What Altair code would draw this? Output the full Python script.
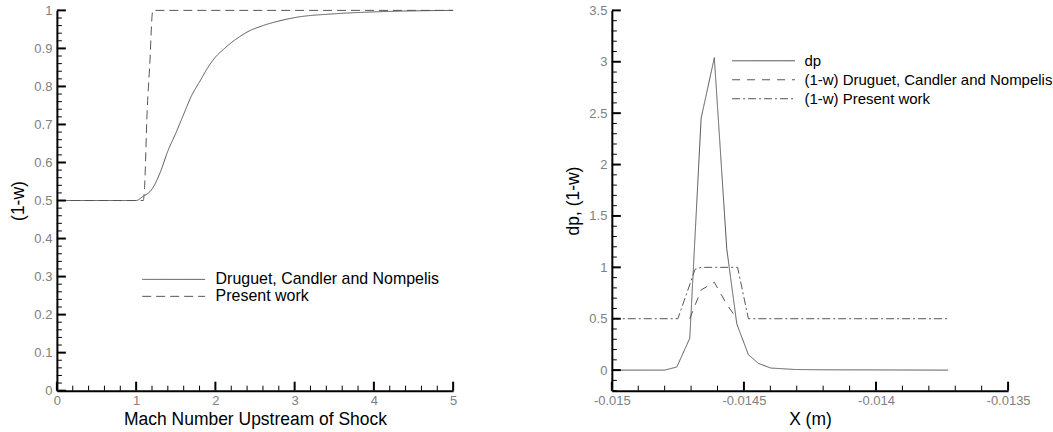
import altair as alt
import pandas as pd

# ---------------- Left panel data: (1-w) vs upstream Mach number ----------------
mach_druguet = [0.0, 1.0, 1.08, 1.2, 1.3, 1.4, 1.5, 1.6, 1.7, 1.8, 1.9, 2.0, 2.1, 2.2, 2.3, 2.4,
                2.6, 2.8, 3.0, 3.5, 4.0, 5.0]
w_druguet = [0.5, 0.5, 0.51, 0.53, 0.572, 0.63, 0.677, 0.727, 0.776, 0.812, 0.848, 0.877, 0.897,
             0.915, 0.93, 0.943, 0.96, 0.972, 0.981, 0.991, 0.996, 1.0]
mach_present = [0.0, 1.09, 1.105, 1.14, 1.17, 1.21, 5.0]
w_present = [0.5, 0.5, 0.53, 0.74, 0.85, 1.0, 1.0]
left_series = ["Druguet, Candler and Nompelis", "Present work"]

# ---------------- Right panel data: dp, (1-w) vs X ----------------
x_dp = [-0.015, -0.0148, -0.014754, -0.014705, -0.014662, -0.014612, -0.014565, -0.014527,
        -0.014483, -0.014445, -0.014398, -0.014307, -0.014193, -0.013727]
dp = [0.0, 0.0, 0.03, 0.31, 2.45, 3.04, 1.18, 0.45, 0.15, 0.065, 0.02, 0.006, 0.003, 0.0]
x_w_druguet = [-0.014705, -0.014662, -0.014612, -0.014565, -0.014527]
w_druguet_r = [0.5, 0.78, 0.855, 0.64, 0.5]
x_w_present = [-0.015, -0.01475, -0.014685, -0.014662, -0.014524, -0.014483, -0.013727]
w_present_r = [0.5, 0.5, 0.98, 1.0, 1.0, 0.5, 0.5]
right_series = ["dp", "(1-w) Druguet, Candler and Nompelis", "(1-w) Present work"]

# tick values
left_x_major = [0, 1, 2, 3, 4, 5]
left_x_minor = [round(i * 0.2, 2) for i in range(26) if i % 5 != 0]
left_y_major = [0, 0.1, 0.2, 0.3, 0.4, 0.5, 0.6, 0.7, 0.8, 0.9, 1]
left_y_minor = [round(i * 0.02, 2) for i in range(51) if i % 5 != 0]
right_x_major = [-0.015, -0.0145, -0.014, -0.0135]
right_x_minor = [round(-0.015 + i * 0.0001, 5) for i in range(16) if i % 5 != 0]
right_y_major = [0, 0.5, 1, 1.5, 2, 2.5, 3, 3.5]
right_y_minor = [round(-0.2 + i * 0.1, 1) for i in range(38) if i % 5 != 2]

FONT = "Liberation Sans"
LINE = "#555555"
W, H = 397, 381
MAJ, MIN = 9, 5

left_df = pd.concat([
    pd.DataFrame({"x": mach_druguet, "y": w_druguet, "s": left_series[0], "o": range(len(mach_druguet))}),
    pd.DataFrame({"x": mach_present, "y": w_present, "s": left_series[1], "o": range(len(mach_present))}),
])
right_df = pd.concat([
    pd.DataFrame({"x": x_dp, "y": dp, "s": right_series[0], "o": range(len(x_dp))}),
    pd.DataFrame({"x": x_w_druguet, "y": w_druguet_r, "s": right_series[1], "o": range(len(x_w_druguet))}),
    pd.DataFrame({"x": x_w_present, "y": w_present_r, "s": right_series[2], "o": range(len(x_w_present))}),
])


def main_axis(values, title, lab_pad, title_pad):
    return alt.Axis(values=values, ticks=False, domain=True, domainColor="black", domainWidth=2,
                    labelExpr="'' + datum.value", labelColor="#808080", labelFontSize=13,
                    labelFont=FONT, labelPadding=lab_pad, labelFlush=False, labelOverlap=False,
                    grid=False, title=title, titleFont=FONT, titleFontSize=17.5,
                    titleFontWeight="normal", titleColor="black", titlePadding=title_pad)


def panel(df, xdom, ydom, xmaj, xmin, ymaj, ymin, xtitle, ytitle, series, dashes,
          legend, interp):
    xs = alt.Scale(domain=xdom, nice=False, zero=False)
    ys = alt.Scale(domain=ydom, nice=False, zero=False)
    xax = main_axis(xmaj, xtitle, 4, 3)
    yax = main_axis(ymaj, ytitle, 5, 6)

    def xticks(values, size, width):
        return alt.Chart(pd.DataFrame({"x": values})).mark_rule(color="black", strokeWidth=width).encode(
            x=alt.X("x:Q", scale=xs, axis=xax),
            y=alt.value(H), y2=alt.value(H - size))

    def yticks(values, size, width):
        return alt.Chart(pd.DataFrame({"y": values})).mark_rule(color="black", strokeWidth=width).encode(
            y=alt.Y("y:Q", scale=ys, axis=yax),
            x=alt.value(0), x2=alt.value(size))

    lines = alt.Chart(df).mark_line(color=LINE, strokeWidth=1, interpolate=interp).encode(
        x=alt.X("x:Q", scale=xs, axis=xax),
        y=alt.Y("y:Q", scale=ys, axis=yax),
        strokeDash=alt.StrokeDash("s:N", scale=alt.Scale(domain=series, range=dashes), legend=legend),
        order="o:Q",
    )
    return alt.layer(
        lines,
        xticks(xmaj, MAJ, 2), xticks(xmin, MIN, 1),
        yticks(ymaj, MAJ, 2), yticks(ymin, MIN, 1),
    ).properties(width=W, height=H)


left_legend = alt.Legend(orient="none", legendX=85, legendY=261, symbolType="stroke", symbolSize=3969,
                         symbolStrokeWidth=1, symbolStrokeColor=LINE, clipHeight=17, rowPadding=0,
                         labelFontSize=16, labelFont=FONT, labelColor="black", labelOffset=10,
                         labelLimit=400, title=None, padding=0)
right_legend = alt.Legend(orient="none", legendX=120, legendY=41, symbolType="stroke", symbolSize=3969,
                          symbolStrokeWidth=1, symbolStrokeColor=LINE, clipHeight=19, rowPadding=0,
                          labelFontSize=15, labelFont=FONT, labelColor="black", labelOffset=9,
                          labelLimit=400, title=None, padding=0)

left = panel(left_df, [0, 5], [0, 1], left_x_major, left_x_minor, left_y_major, left_y_minor,
             "Mach Number Upstream of Shock", "(1-w)", left_series, [[1, 0], [9, 5]],
             left_legend, "monotone")
right = panel(right_df, [-0.015, -0.0135], [-0.2, 3.5], right_x_major, right_x_minor, right_y_major,
              right_y_minor, "X (m)", "dp, (1-w)", right_series, [[1, 0], [8, 7], [8, 3, 2, 3]],
              right_legend, "linear")

chart = alt.hconcat(left, right, spacing=159, bounds="flush").resolve_scale(
    strokeDash="independent").resolve_legend(strokeDash="independent").properties(
    padding={"left": 9, "top": 4, "right": 0, "bottom": 0}, background="white"
).configure_view(strokeWidth=0)

chart.save("out.html", embed_options={"renderer": "svg", "actions": False})
